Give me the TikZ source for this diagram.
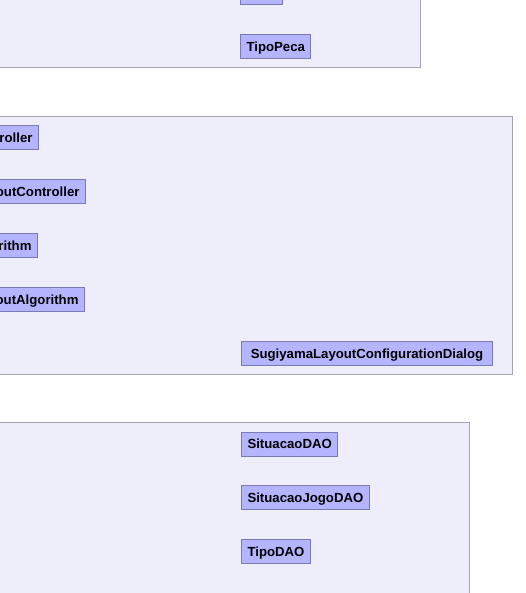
\documentclass[tikz,border=0pt]{standalone}
\usepackage{fontspec}
\setmainfont{Liberation Sans}
\definecolor{pkgfill}{HTML}{EEEEFB}
\definecolor{pkgline}{HTML}{A4A4B6}
\definecolor{clsfill}{HTML}{B4B4FF}
\definecolor{clsline}{HTML}{7A7AB6}
\begin{document}
\begin{tikzpicture}[x=1pt,y=-1pt,
  pkg/.style={draw=pkgline, fill=pkgfill, line width=1pt},
  cls/.style={draw=clsline, fill=clsfill, line width=1pt, minimum height=24pt,
    inner xsep=6pt, inner ysep=0pt, text height=9.7pt, text depth=0pt,
    font=\fontsize{13.2}{14}\selectfont\bfseries, text=black, anchor=west},
  clscut/.style={cls, anchor=east, text width=110pt, align=right}]
\useasboundingbox (0,0) rectangle (526,593);
\clip (0,0) rectangle (526,593);

% package frames
\draw[pkg] (-20,-20) rectangle (420.5,67.5);
\draw[pkg] (-20,116.5) rectangle (512.5,374.5);
\draw[pkg] (-20,422) rectangle (469.5,630);

% first package
\node[cls, minimum width=42pt] (top) at (240,-7.3) {};
\node[cls] (tipopeca) at (240,46.3) {TipoPeca};

% layout package
\node[clscut] (ctrl) at (39,137.5) {roller};
\node[clscut] (layctrl) at (86,191.5) {outController};
\node[clscut] (algo) at (38,245.5) {rithm};
\node[clscut] (layalgo) at (85,299.5) {outAlgorithm};
\node[cls, minimum width=251pt] (dialog) at (241,353.2) {SugiyamaLayoutConfigurationDialog};

% dao package
\node[cls] (situacao) at (241,444) {SituacaoDAO};
\node[cls] (situacaojogo) at (241,497.5) {SituacaoJogoDAO};
\node[cls] (tipo) at (241,551.2) {TipoDAO};
\end{tikzpicture}
\end{document}
